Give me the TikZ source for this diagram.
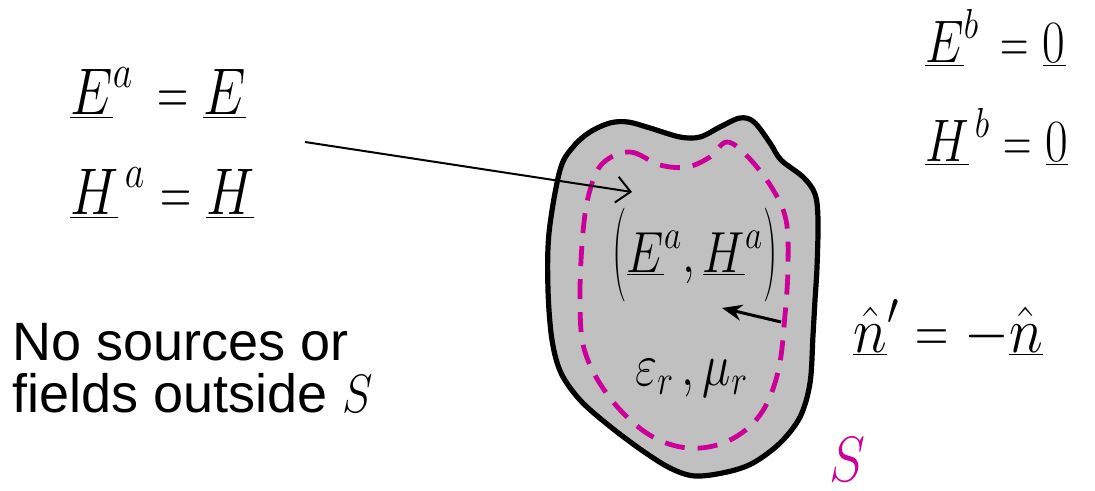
\documentclass[tikz,border=0pt]{standalone}
\usepackage{fix-cm}
\usepackage{fontspec}
\usepackage{graphicx}
\newfontfamily\arialfont{Liberation Sans}
\usetikzlibrary{arrows.meta}
\definecolor{blobgray}{RGB}{192,192,192}
\definecolor{magentaS}{RGB}{204,0,153}
\newcommand{\uv}[1]{\underline{#1}}
\newcommand{\fs}[1]{\fontsize{#1}{#1}\selectfont}
\newcommand{\myeq}{\mathrel{\scalebox{0.8}[1]{$=$}}}
\newcommand{\nx}[2][0.82]{\scalebox{#1}[1]{#2}}
\newcommand{\bigpar}[1]{\raisebox{-0.12em}{\scalebox{0.85}[1.62]{#1}}}
\tikzset{
  eq/.style={inner sep=0pt, anchor=base west, font=\fs{33}},
  eqs/.style={inner sep=0pt, anchor=base west, font=\fs{30}},
  outline/.style={draw=black, line width=2.6pt, fill=blobgray},
  surf/.style={draw=magentaS, line width=2.4pt, dash pattern=on 10pt off 6.5pt},
  thinarrow/.style={line width=1pt, -{Straight Barb[length=7pt,width=13pt,line width=1pt]}},
  normarrow/.style={line width=1.5pt, -{Stealth[length=10pt,width=8pt]}}
}
\begin{document}
\begin{tikzpicture}[x=0.5pt,y=-0.5pt]
\useasboundingbox (0,0) rectangle (1095,491);
% body
\draw[outline] plot[smooth cycle, tension=0.55] coordinates {
 (560,170) (573,147) (590,132) (610,123) (628,122) (650,128) (680,137) (700,137)
 (720,127) (740,118) (754,122) (770,143) (781,160) (803,177) (815,194) (818,220)
 (817,267) (815,300) (813,335) (810,383) (800,417) (780,443) (753,463) (727,472)
 (695,476) (670,468) (640,449) (607,424) (580,400) (561,373) (552,340) (548,290)
 (549,233)};
\draw[surf] plot[smooth cycle, tension=0.6] coordinates {
 (603,163) (630,152) (660,165) (687,167) (710,157) (727,142) (748,157) (772,188)
 (786,220) (788,265) (785,315) (778,372) (760,415) (728,441) (688,448) (648,434)
 (610,398) (585,352) (580,300) (583,232) (590,190)};
% texts
\node[eq] (ea) at (70,115) {\nx{$\uv{E}^{a}\, \myeq \uv{E}$}};
\node[eq] (ha) at (70,215) {\nx{$\uv{H}^{\,a} \myeq \uv{H}$}};
\node[eqs] (eb) at (925,63) {\nx{$\uv{E}^{b}\, \myeq \uv{0}$}};
\node[eqs] (hb) at (925,162) {\nx{$\uv{H}^{\,b} \myeq \uv{0}$}};
\node[inner sep=0pt, anchor=base west, font=\fs{32}] (nn) at (853,352)
  {\nx[0.9]{$\uv{\hat{n}}' \myeq -\uv{\hat{n}}$}};
\node[inner sep=0pt, anchor=base west, font=\fs{27}\arialfont] (txt1) at (12,360) {No sources or};
\node[inner sep=0pt, anchor=base west, font=\fs{27}\arialfont] (txt2) at (12,412) {fields outside \nx[0.85]{$S$}};
\node[inner sep=0pt, anchor=base west, font=\fs{32}, text=magentaS] (S) at (829,481) {\nx[0.85]{$S$}};
\node[inner sep=0pt, anchor=base, font=\fs{29}] (fa) at (695,272)
  {\nx{\bigpar{$($}$\uv{E}^{a},\uv{H}^{a}$\bigpar{$)$}}};
\node[inner sep=0pt, anchor=base west, font=\fs{30}] (em) at (635,385)
  {\nx[0.8]{$\varepsilon_r\,,\mu_r$}};
% arrows
\coordinate (a1s) at (305,142);
\coordinate (a1e) at (632,192);
\coordinate (a2s) at (781,322);
\coordinate (a2e) at (722,308);
\draw[thinarrow] (a1s) -- (a1e);
\draw[normarrow] (a2s) -- (a2e);
\end{tikzpicture}
\end{document}
